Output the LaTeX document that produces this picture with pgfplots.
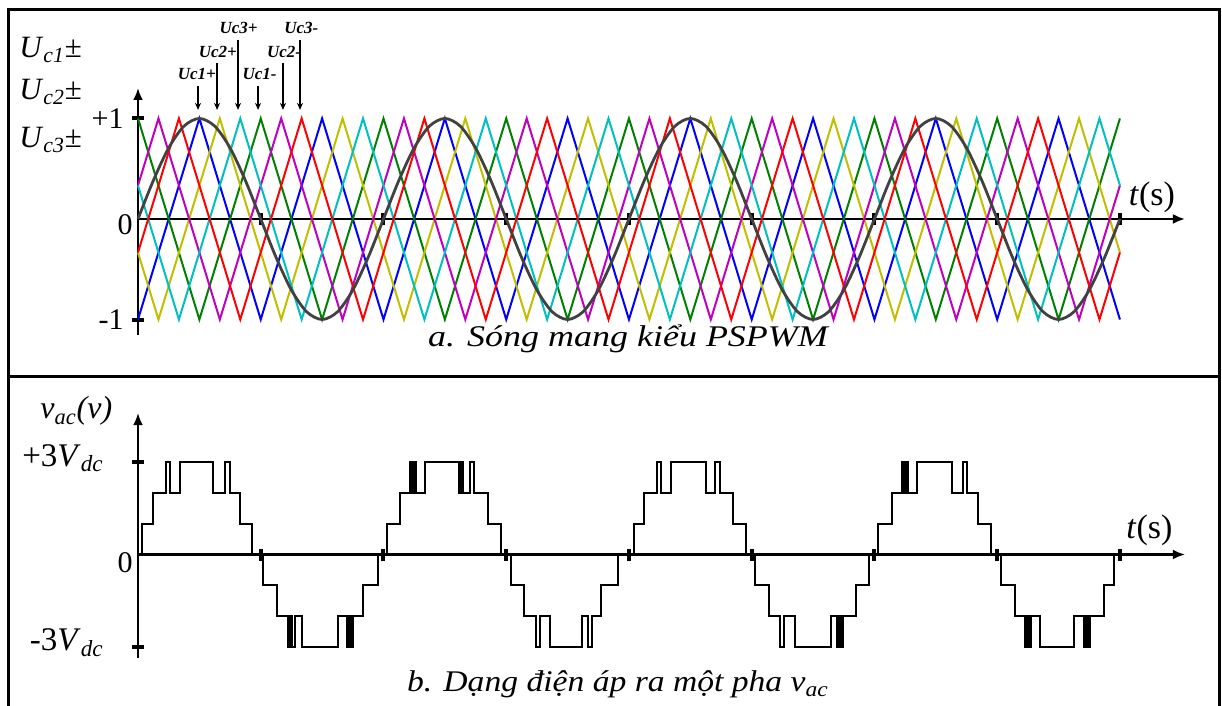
\documentclass[border=0pt]{standalone}
\usepackage{fontspec}
\setmainfont{Liberation Serif}
\usepackage{pgfplots}
\pgfplotsset{compat=1.18}
\usetikzlibrary{arrows.meta}

\definecolor{cblue}{RGB}{0,0,255}
\definecolor{cgreen}{RGB}{0,128,0}
\definecolor{cred}{RGB}{255,0,0}
\definecolor{ccyan}{RGB}{0,191,191}
\definecolor{cmag}{RGB}{191,0,191}
\definecolor{cyel}{RGB}{191,191,0}
\definecolor{refgray}{RGB}{65,65,65}

\newcommand{\lbl}{\fontsize{15}{18}\selectfont}
\newcommand{\capfont}{\fontsize{15}{18}\selectfont\itshape}

\pgfplotsset{
  pwm/.style={
    scale only axis, width=523.5pt,
    xmin=0, xmax=8.53,
    axis lines=middle,
    axis line style={line width=1.4pt, black},
    every inner x axis line/.append style={-{Latex[length=6pt,width=5pt]}},
    every inner y axis line/.append style={-{Latex[length=6pt,width=5pt]}},
    xtick={1,2,3,4,5,6,7,8}, xticklabels={},
    tick align=center,
    major tick length=6pt,
    tick style={line width=2pt, black},
    yticklabel style={font=\lbl, anchor=east, inner sep=0pt, xshift=-4pt},
    clip=false,
  },
  carrier/.style={line width=1pt},
}

\begin{document}
\begin{tikzpicture}[x=1pt,y=1pt]
\draw[line width=1.5pt] (4.25,-2) -- (4.25,348.25) -- (609.75,348.25) -- (609.75,-2);
\draw[line width=1.5pt] (4.25,164.5) -- (609.75,164.5);

% ---------- a. carriers ----------
\begin{axis}[pwm, at={(69pt,185.5pt)}, anchor=south west, height=123.5pt,
  ymin=-1.154, ymax=1.303,
  ytick={-1,1}, yticklabels={-1,+1}]

% Uc1+
\addplot[carrier, cblue] coordinates {(0,-1) (0.5,1) (1,-1) (1.5,1) (2,-1) (2.5,1) (3,-1) (3.5,1) (4,-1) (4.5,1) (5,-1) (5.5,1) (6,-1) (6.5,1) (7,-1) (7.5,1) (8,-1)};
% Uc1-
\addplot[carrier, cgreen] coordinates {(0,1) (0.5,-1) (1,1) (1.5,-1) (2,1) (2.5,-1) (3,1) (3.5,-1) (4,1) (4.5,-1) (5,1) (5.5,-1) (6,1) (6.5,-1) (7,1) (7.5,-1) (8,1)};
% Uc2+
\addplot[carrier, cyel] coordinates {(0,-0.3333) (0.1667,-1) (0.6667,1) (1.1667,-1) (1.6667,1) (2.1667,-1) (2.6667,1) (3.1667,-1) (3.6667,1) (4.1667,-1) (4.6667,1) (5.1667,-1) (5.6667,1) (6.1667,-1) (6.6667,1) (7.1667,-1) (7.6667,1) (8,-0.3333)};
% Uc2-
\addplot[carrier, cmag] coordinates {(0,0.3333) (0.1667,1) (0.6667,-1) (1.1667,1) (1.6667,-1) (2.1667,1) (2.6667,-1) (3.1667,1) (3.6667,-1) (4.1667,1) (4.6667,-1) (5.1667,1) (5.6667,-1) (6.1667,1) (6.6667,-1) (7.1667,1) (7.6667,-1) (8,0.3333)};
% Uc3+
\addplot[carrier, ccyan] coordinates {(0,0.3333) (0.3333,-1) (0.8333,1) (1.3333,-1) (1.8333,1) (2.3333,-1) (2.8333,1) (3.3333,-1) (3.8333,1) (4.3333,-1) (4.8333,1) (5.3333,-1) (5.8333,1) (6.3333,-1) (6.8333,1) (7.3333,-1) (7.8333,1) (8,0.3333)};
% Uc3-
\addplot[carrier, cred] coordinates {(0,-0.3333) (0.3333,1) (0.8333,-1) (1.3333,1) (1.8333,-1) (2.3333,1) (2.8333,-1) (3.3333,1) (3.8333,-1) (4.3333,1) (4.8333,-1) (5.3333,1) (5.8333,-1) (6.3333,1) (6.8333,-1) (7.3333,1) (7.8333,-1) (8,-0.3333)};

% reference wave
\addplot[refgray, line width=1.4pt, smooth] table {
t v
0 0
0.125 0.3827
0.25 0.7071
0.375 0.9239
0.5 1
0.625 0.9239
0.75 0.7071
0.875 0.3827
1 0
1.125 -0.3827
1.25 -0.7071
1.375 -0.9239
1.5 -1
1.625 -0.9239
1.75 -0.7071
1.875 -0.3827
2 0
2.125 0.3827
2.25 0.7071
2.375 0.9239
2.5 1
2.625 0.9239
2.75 0.7071
2.875 0.3827
3 0
3.125 -0.3827
3.25 -0.7071
3.375 -0.9239
3.5 -1
3.625 -0.9239
3.75 -0.7071
3.875 -0.3827
4 0
4.125 0.3827
4.25 0.7071
4.375 0.9239
4.5 1
4.625 0.9239
4.75 0.7071
4.875 0.3827
5 0
5.125 -0.3827
5.25 -0.7071
5.375 -0.9239
5.5 -1
5.625 -0.9239
5.75 -0.7071
5.875 -0.3827
6 0
6.125 0.3827
6.25 0.7071
6.375 0.9239
6.5 1
6.625 0.9239
6.75 0.7071
6.875 0.3827
7 0
7.125 -0.3827
7.25 -0.7071
7.375 -0.9239
7.5 -1
7.625 -0.9239
7.75 -0.7071
7.875 -0.3827
8 0
};

\node[font=\lbl, anchor=base east, inner sep=0pt] at (axis cs:0,0) [xshift=-2.5pt, yshift=-8pt] {0};
\node[font=\fontsize{17}{18}\selectfont, anchor=base west, inner sep=0pt] at (axis cs:8.07,0) [yshift=6.5pt] {\textit{t}(s)};

% carrier labels and arrows
\begin{scope}[every node/.style={font=\fontsize{8.5}{9}\selectfont\bfseries\itshape, anchor=base, inner sep=0pt}]
\draw[line width=0.7pt, -{Stealth[length=3.5pt,width=3pt]}] (axis cs:0.489,1.323) -- (axis cs:0.489,1.085);
\draw[line width=0.7pt, -{Stealth[length=3.5pt,width=3pt]}] (axis cs:0.644,1.552) -- (axis cs:0.644,1.085);
\draw[line width=0.7pt, -{Stealth[length=3.5pt,width=3pt]}] (axis cs:0.815,1.781) -- (axis cs:0.815,1.085);
\draw[line width=0.7pt, -{Stealth[length=3.5pt,width=3pt]}] (axis cs:0.978,1.323) -- (axis cs:0.978,1.085);
\draw[line width=0.7pt, -{Stealth[length=3.5pt,width=3pt]}] (axis cs:1.181,1.552) -- (axis cs:1.181,1.085);
\draw[line width=0.7pt, -{Stealth[length=3.5pt,width=3pt]}] (axis cs:1.320,1.781) -- (axis cs:1.320,1.085);
\node at (axis cs:0.480,1.383) {Uc1+};
\node at (axis cs:0.650,1.602) {Uc2+};
\node at (axis cs:0.820,1.841) {Uc3+};
\node at (axis cs:0.990,1.383) {Uc1-};
\node at (axis cs:1.190,1.602) {Uc2-};
\node at (axis cs:1.330,1.841) {Uc3-};
\end{scope}
\end{axis}

\node[font=\fontsize{15.5}{18}\selectfont, anchor=base west, inner sep=0pt] at (9.5,324) {\textit{U}\textsubscript{\textit{c1}}±};
\node[font=\fontsize{15.5}{18}\selectfont, anchor=base west, inner sep=0pt] at (9.5,303) {\textit{U}\textsubscript{\textit{c2}}±};
\node[font=\fontsize{15.5}{18}\selectfont, anchor=base west, inner sep=0pt] at (9.5,279) {\textit{U}\textsubscript{\textit{c3}}±};
\node[anchor=base, inner sep=0pt] at (314,179.5) {\scalebox{1.2}[1]{\capfont a. Sóng mang kiểu PSPWM}};

% ---------- b. output voltage ----------
\begin{axis}[pwm, at={(69pt,24pt)}, anchor=south west, height=122.5pt,
  ymin=-3.371, ymax=4.609,
  ytick={-3,3}, yticklabels={-3\textit{V}\textsubscript{\textit{dc}},+3\textit{V}\textsubscript{\textit{dc}}},
  yticklabel style={font=\fontsize{16.5}{18}\selectfont, xshift=-10pt, yshift=2pt}]

\addplot[const plot, black, line width=1pt] coordinates {
(0,0) (0.0326,1) (0.1222,2) (0.2281,3) (0.2607,2) (0.3422,3) (0.6110,2) (0.7088,3) (0.7495,2) (0.8310,1) (0.9287,0)
(1.0183,-1) (1.1324,-2) (1.2220,-3) (1.2424,-2) (1.2587,-3) (1.2790,-2) (1.3360,-3) (1.6293,-2) (1.7026,-3) (1.7230,-2) (1.7352,-3) (1.7556,-2) (1.8330,-1) (1.9552,0)
(2.0285,1) (2.1344,2) (2.2159,3) (2.2363,2) (2.2485,3) (2.2688,2) (2.3381,3) (2.6151,2) (2.6314,3) (2.6477,2) (2.7047,3) (2.7373,2) (2.8513,1) (2.9572,0)
(3.0387,-1) (3.1446,-2) (3.2424,-3) (3.2749,-2) (3.3564,-3) (3.6171,-2) (3.6660,-3) (3.6986,-2) (3.7719,-1) (3.9104,0)
(4.0407,1) (4.1222,2) (4.2322,3) (4.2648,2) (4.3422,3) (4.6273,2) (4.7006,3) (4.7413,2) (4.8473,1) (4.9532,0)
(5.0305,-1) (5.1373,-2) (5.2342,-3) (5.2668,-2) (5.3523,-3) (5.6456,-2) (5.6945,-3) (5.7149,-2) (5.7271,-3) (5.7475,-2) (5.8493,-1) (5.9519,0)
(6.0285,1) (6.1401,2) (6.2208,3) (6.2411,2) (6.2533,3) (6.2737,2) (6.3438,3) (6.6314,2) (6.7210,3) (6.7536,2) (6.8415,1) (6.9491,0)
(7.0289,-1) (7.1422,-2) (7.2228,-3) (7.2432,-2) (7.2554,-3) (7.2758,-2) (7.3458,-3) (7.6253,-2) (7.7067,-3) (7.7271,-2) (7.7393,-3) (7.7597,-2) (7.8697,-1) (7.9511,0)
(8,0)
};

\node[font=\lbl, anchor=base east, inner sep=0pt] at (axis cs:0,0) [xshift=-2.5pt, yshift=-9pt] {0};
\node[font=\fontsize{17}{18}\selectfont, anchor=base west, inner sep=0pt] at (axis cs:8.05,0) [yshift=8pt] {\textit{t}(s)};
\end{axis}

\node[font=\fontsize{16}{18}\selectfont, anchor=base west, inner sep=0pt] at (20,143.5) {\textit{v}\textsubscript{\textit{ac}}\textit{(v)}};
\node[anchor=base, inner sep=0pt] at (309,7) {\scalebox{1.12}[1]{\capfont b. Dạng điện áp ra một pha \textit{v}\textsubscript{\textit{ac}}}};

\pgfresetboundingbox
\useasboundingbox (0,0) rectangle (611,353);
\end{tikzpicture}
\end{document}
